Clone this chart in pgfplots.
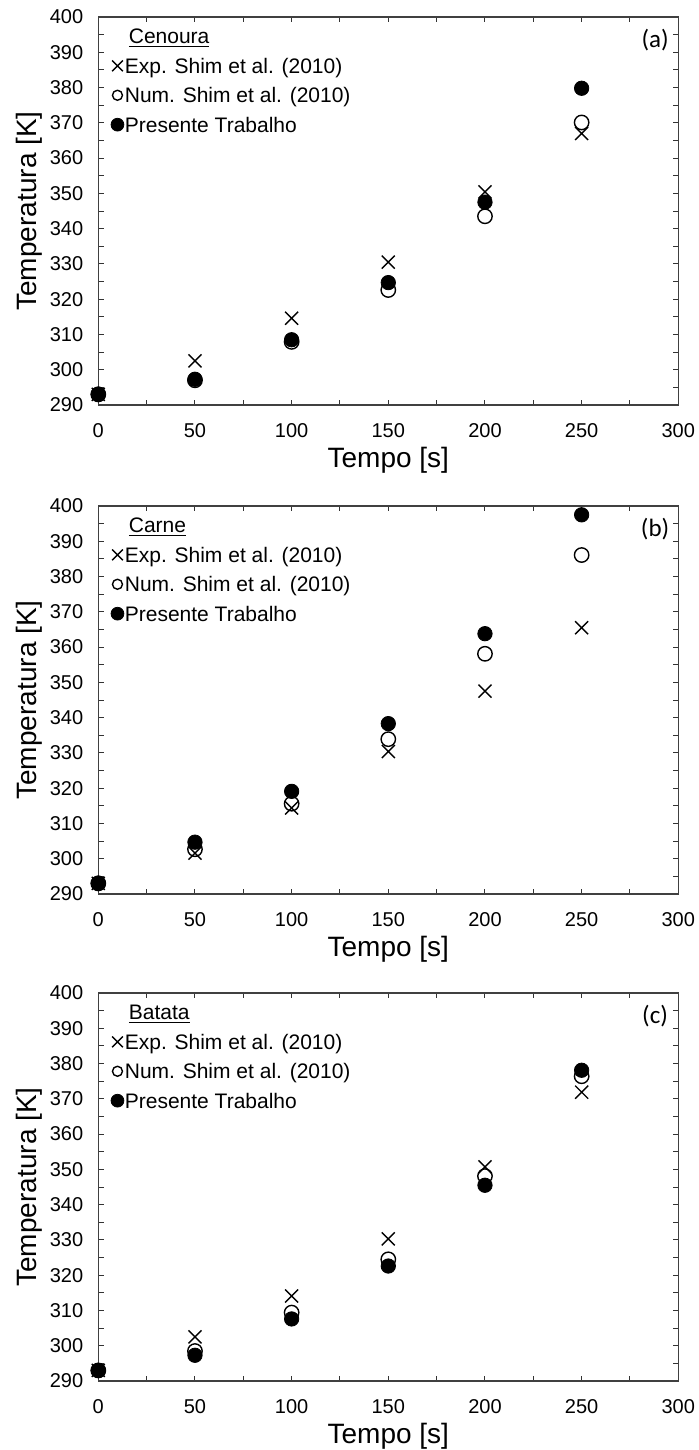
\documentclass[border=0pt]{standalone}
\usepackage{fontspec}
\setmainfont{Liberation Sans}
\newfontfamily\carlito{Carlito}
\usepackage{pgfplots}
\pgfplotsset{compat=1.18}

\tikzset{tag/.style={font=\carlito\fontsize{12.5}{14}\selectfont}}

\pgfplotsset{
  panel/.style={
    scale only axis, width=290pt, height=194pt,
    xmin=0, xmax=300, ymin=290, ymax=400,
    xtick={0,50,...,300}, minor xtick={25,75,...,275},
    ytick={290,300,...,400}, minor ytick={295,305,...,395},
    tick align=inside, major tick length=2.6pt, minor tick length=2.6pt,
    every tick/.style={black!80, line width=0.5pt},
    axis line style={black!75, line width=0.7pt},
    clip=false,
    /pgf/number format/assume math mode=true,
    ticklabel style={font=\fontsize{10}{12}\selectfont},
    xticklabel style={yshift=-5.5pt},
    yticklabel style={xshift=-4pt},
    xlabel={Tempo [s]}, ylabel={Temperatura [K]},
    label style={font=\fontsize{14}{16}\selectfont},
    xlabel style={at={(axis description cs:0.5,-0.142)}, anchor=center},
    ylabel style={at={(axis description cs:-0.119,0.5)}, anchor=center},
    legend cell align=left,
    legend image code/.code={
      \draw[mark repeat=2,mark phase=2,##1] plot coordinates {(0pt,1.2pt) (3pt,1.2pt) (6.4pt,1.2pt)};},
    legend style={at={(axis description cs:0.022,0.972)}, anchor=north west,
      draw=none, fill=none, inner sep=0pt, outer sep=0pt,
      font=\fontsize{10.5}{12}\selectfont, row sep=3.7pt,
      nodes={inner sep=0.5pt, text height=7.5pt, text depth=2.5pt},
      /tikz/every even column/.append style={column sep=1.2pt}},
  },
  exp/.style={only marks, mark=x, mark size=4.6pt, line width=0.7pt, black},
  num/.style={only marks, mark=o, mark size=3.6pt, line width=0.7pt, black},
  pres/.style={only marks, mark=*, mark size=3.6pt, black},
}

\begin{document}
\begin{tikzpicture}
\useasboundingbox (0,0) rectangle (349.5pt,-725pt);

% (a) Cenoura
\begin{axis}[panel, at={(49.15pt,-8.5pt)}, anchor=north west]
\addlegendimage{empty legend}
\addlegendentry{\hspace{2pt}\underline{Cenoura}}
\addlegendimage{exp, mark size=3.8pt}
\addlegendentry{Exp. Shim et al. (2010)}
\addlegendimage{num, mark size=2.5pt}
\addlegendentry{Num. Shim et al. (2010)}
\addlegendimage{pres, mark size=3.2pt}
\addlegendentry{Presente Trabalho}
\addplot[exp, forget plot] coordinates {(0,293) (50,302.5) (100,314.6) (150,330.5) (200,350.4) (250,367)};
\addplot[num, forget plot] coordinates {(0,293) (50,297) (100,307.9) (150,322.6) (200,343.5) (250,370.1)};
\addplot[pres, forget plot] coordinates {(0,293.1) (50,297.3) (100,308.5) (150,324.7) (200,347.5) (250,379.8)};
\node[tag] at (rel axis cs:0.96,0.94) {(a)};
\end{axis}

% (b) Carne
\begin{axis}[panel, at={(49.15pt,-253pt)}, anchor=north west]
\addlegendimage{empty legend}
\addlegendentry{\hspace{2pt}\underline{Carne}}
\addlegendimage{exp, mark size=3.8pt}
\addlegendentry{Exp. Shim et al. (2010)}
\addlegendimage{num, mark size=2.5pt}
\addlegendentry{Num. Shim et al. (2010)}
\addlegendimage{pres, mark size=3.2pt}
\addlegendentry{Presente Trabalho}
\addplot[exp, forget plot] coordinates {(0,293) (50,301.6) (100,314.4) (150,330.4) (200,347.5) (250,365.5)};
\addplot[num, forget plot] coordinates {(0,293) (50,302.7) (100,315.6) (150,333.9) (200,358.1) (250,386.1)};
\addplot[pres, forget plot] coordinates {(0,293.1) (50,304.7) (100,319.1) (150,338.3) (200,363.8) (250,397.5)};
\node[tag] at (rel axis cs:0.96,0.94) {(b)};
\end{axis}

% (c) Batata
\begin{axis}[panel, at={(49.15pt,-496.5pt)}, anchor=north west]
\addlegendimage{empty legend}
\addlegendentry{\hspace{2pt}\underline{Batata}}
\addlegendimage{exp, mark size=3.8pt}
\addlegendentry{Exp. Shim et al. (2010)}
\addlegendimage{num, mark size=2.5pt}
\addlegendentry{Num. Shim et al. (2010)}
\addlegendimage{pres, mark size=3.2pt}
\addlegendentry{Presente Trabalho}
\addplot[exp, forget plot] coordinates {(0,293) (50,302.5) (100,314.1) (150,330.3) (200,350.7) (250,371.9)};
\addplot[num, forget plot] coordinates {(0,293) (50,298.5) (100,309.4) (150,324.5) (200,348.1) (250,376.4)};
\addplot[pres, forget plot] coordinates {(0,293) (50,297.3) (100,307.6) (150,322.6) (200,345.5) (250,378.1)};
\node[tag] at (rel axis cs:0.96,0.94) {(c)};
\end{axis}
\end{tikzpicture}
\end{document}
